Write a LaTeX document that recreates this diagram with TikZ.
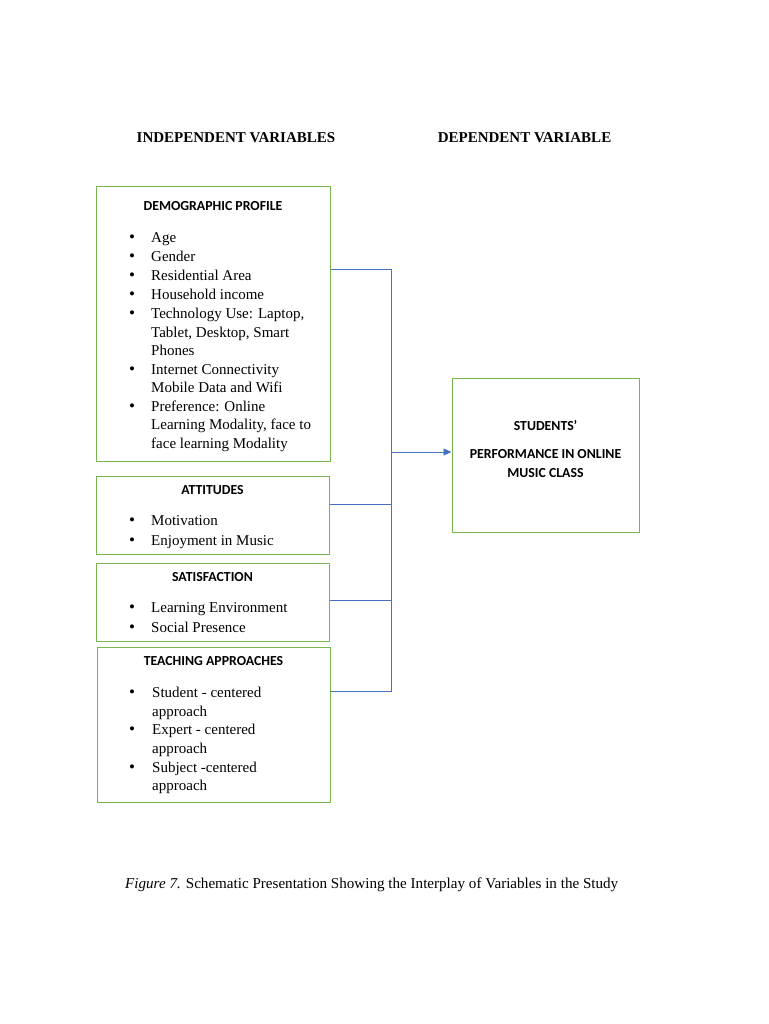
\documentclass[tikz,border=0pt]{standalone}
\usepackage{fontspec}
\setmainfont{Liberation Serif}
\newfontfamily\hdfont{Carlito}
\usetikzlibrary{arrows.meta,calc}
\definecolor{boxgreen}{RGB}{120,180,80}
\definecolor{linkblue}{RGB}{68,114,196}
\begin{document}
\begin{tikzpicture}[x=1pt,y=-1pt,
  box/.style={draw=boxgreen,line width=1pt,inner sep=0pt,rectangle},
  link/.style={draw=linkblue,line width=0.9pt},
  t/.style={anchor=west,inner sep=0pt,text height=9pt,text depth=3pt,yshift=-2.5pt,font=\fontsize{15}{17}\selectfont},
  bul/.style={anchor=center,inner sep=0pt,yshift=-1.5pt,font=\fontsize{17}{18}\selectfont},
  ttl/.style={anchor=center,inner sep=0pt,font=\hdfont\bfseries\fontsize{13.8}{15}\selectfont},
  hdr/.style={anchor=center,inner sep=0pt,font=\bfseries\fontsize{15}{17}\selectfont}]
\fill[white] (0,0) rectangle (768,1024);
\useasboundingbox (0,0) rectangle (768,1024);

% headers
\node[hdr] (hind) at (236,138) {INDEPENDENT VARIABLES};
\node[hdr] (hdep) at (524.5,138) {DEPENDENT VARIABLE};

% boxes
\node[box,minimum width=234pt,minimum height=274pt] (demo) at (213,324) {};
\node[box,minimum width=233pt,minimum height=78pt] (att) at (212.5,515) {};
\node[box,minimum width=233pt,minimum height=78pt] (sat) at (212.5,602) {};
\node[box,minimum width=233pt,minimum height=155pt] (teach) at (213.5,724.5) {};
\node[box,minimum width=187pt,minimum height=154pt] (stud) at (545.5,455) {};

% demographic
\node[ttl] (demot) at (213,206) {DEMOGRAPHIC PROFILE};
\node[bul] (b1) at (132,237) {\textbullet}; \node[t] (d1) at (151,237) {Age};
\node[bul] (b2) at (132,256) {\textbullet}; \node[t] (d2) at (151,256) {Gender};
\node[bul] (b3) at (132,275) {\textbullet}; \node[t] (d3) at (151,275) {Residential Area};
\node[bul] (b4) at (132,294) {\textbullet}; \node[t] (d4) at (151,294) {Household income};
\node[bul] (b5) at (132,313) {\textbullet}; \node[t] (d5) at (151,313) {Technology Use: Laptop,};
\node[t] (d5b) at (151,332) {Tablet, Desktop, Smart};
\node[t] (d5c) at (151,350) {Phones};
\node[bul] (b6) at (132,369) {\textbullet}; \node[t] (d6) at (151,369) {Internet Connectivity};
\node[t] (d6b) at (151,387) {Mobile Data and Wifi};
\node[bul] (b7) at (132,406) {\textbullet}; \node[t] (d7) at (151,406) {Preference: Online};
\node[t] (d7b) at (151,424) {Learning Modality, face to};
\node[t] (d7c) at (151,443) {face learning Modality};

% attitudes
\node[ttl] (attt) at (212.5,490) {ATTITUDES};
\node[bul] (b8) at (132,520) {\textbullet}; \node[t] (a1) at (151,520) {Motivation};
\node[bul] (b9) at (132,540) {\textbullet}; \node[t] (a2) at (151,540) {Enjoyment in Music};

% satisfaction
\node[ttl] (satt) at (212.5,577) {SATISFACTION};
\node[bul] (b10) at (132,607) {\textbullet}; \node[t] (s1) at (151,607) {Learning Environment};
\node[bul] (b11) at (132,627) {\textbullet}; \node[t] (s2) at (151,627) {Social Presence};

% teaching
\node[ttl] (teacht) at (213.5,661) {TEACHING APPROACHES};
\node[bul] (b12) at (132,692) {\textbullet}; \node[t] (e1) at (152,692) {Student - centered};
\node[t] (e1b) at (152,711) {approach};
\node[bul] (b13) at (132,729) {\textbullet}; \node[t] (e2) at (152,729) {Expert - centered};
\node[t] (e2b) at (152,748) {approach};
\node[bul] (b14) at (132,767) {\textbullet}; \node[t] (e3) at (152,767) {Subject -centered};
\node[t] (e3b) at (152,785) {approach};

% students box
\node[ttl] (st1) at (545.5,426) {STUDENTS’};
\node[ttl] (st2) at (545.5,454) {PERFORMANCE IN ONLINE};
\node[ttl] (st3) at (545.5,473) {MUSIC CLASS};

% connectors
\coordinate (bus) at (391,0);
\coordinate (p1) at ($(demo.east)+(0,-55)$);
\coordinate (p2) at ($(att.east)+(0,-11)$);
\coordinate (p3) at ($(sat.east)+(0,-2)$);
\coordinate (p4) at ($(teach.east)+(0,-33.5)$);
\coordinate (q) at ($(stud.west)+(0,-3)$);
\draw[link] (p1) -- (p1 -| bus) -- (p4 -| bus) -- (p4);
\draw[link] (p2) -- (p2 -| bus);
\draw[link] (p3) -- (p3 -| bus);
\draw[link,-{Triangle[length=8pt,width=7pt]}] (q -| bus) -- (q);

% caption
\node[anchor=west,inner sep=0pt,font=\fontsize{15.1}{17}\selectfont] (cap) at (125,885) {\textit{Figure 7.} Schematic Presentation Showing the Interplay of Variables in the Study};
\end{tikzpicture}
\end{document}
